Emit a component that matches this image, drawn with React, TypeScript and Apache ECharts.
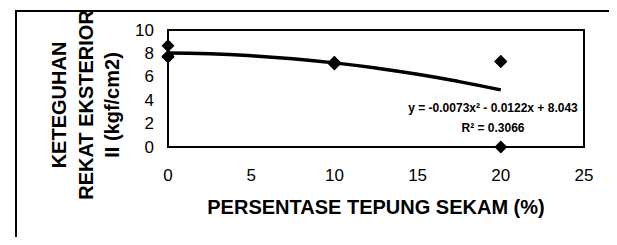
import React, { useEffect, useRef } from "react";
import * as echarts from "echarts";

const pointX = [0, 0, 0, 10, 10, 10, 20, 20, 20];
const pointY = [8.65, 7.75, 7.7, 7.1, 7.2, 7.25, 7.3, 7.3, 0];
const trendX = [0, 2.5, 5, 7.5, 10, 12.5, 15, 17.5, 20];
const trendY = [8.04, 7.97, 7.8, 7.54, 7.19, 6.75, 6.22, 5.59, 4.88];
const xTicks = [0, 5, 10, 15, 20, 25];
const yTicks = [0, 2, 4, 6, 8, 10];
const xTitle = "PERSENTASE TEPUNG SEKAM (%)";
const yTitleLines = ["KETEGUHAN", "REKAT EKSTERIOR", "II (kgf/cm2)"];
const equation = "y = -0.0073x\u00B2 - 0.0122x + 8.043";
const rSquared = "R\u00B2 = 0.3066";

const FONT = "'Liberation Sans', Arial, sans-serif";

export default function App() {
  const ref = useRef<HTMLDivElement>(null);
  useEffect(() => {
    if (!ref.current) return;
    const chart = echarts.init(ref.current, null, { renderer: "svg" });
    const yTitleX = [59, 86, 112];
    chart.setOption({
      animation: false,
      backgroundColor: "#fff",
      grid: {
        left: 168,
        top: 30,
        right: 33,
        bottom: 98,
        show: true,
        borderColor: "#000",
        borderWidth: 2,
        backgroundColor: "transparent",
      },
      xAxis: {
        type: "value",
        min: xTicks[0],
        max: xTicks[xTicks.length - 1],
        interval: 5,
        axisLine: { show: false },
        axisTick: { show: false },
        splitLine: { show: false },
        axisLabel: { color: "#000", fontSize: 17, fontFamily: FONT, margin: 20 },
        name: xTitle,
        nameLocation: "middle",
        nameGap: 50,
        nameTextStyle: { color: "#000", fontSize: 20, fontWeight: "bold", fontFamily: FONT },
      },
      yAxis: {
        type: "value",
        min: yTicks[0],
        max: yTicks[yTicks.length - 1],
        interval: 2,
        axisLine: { show: false },
        axisTick: { show: false },
        splitLine: { show: false },
        axisLabel: { color: "#000", fontSize: 17, fontFamily: FONT, margin: 14 },
      },
      graphic: [
        {
          type: "rect",
          shape: { x: 16, y: 11, width: 598, height: 300 },
          style: { fill: "none", stroke: "#000", lineWidth: 2 },
          silent: true,
        },
        ...yTitleLines.map((t, i) => ({
          type: "text",
          x: yTitleX[i],
          y: 105,
          rotation: Math.PI / 2,
          style: {
            text: t,
            fill: "#000",
            font: `bold 20px ${FONT}`,
            textAlign: "center",
            textVerticalAlign: "middle",
          },
        })),
        {
          type: "text",
          x: 493,
          y: 108,
          style: {
            text: equation,
            fill: "#000",
            font: `bold 12px ${FONT}`,
            textAlign: "center",
            textVerticalAlign: "middle",
          },
        },
        {
          type: "text",
          x: 493,
          y: 128,
          style: {
            text: rSquared,
            fill: "#000",
            font: `bold 12px ${FONT}`,
            textAlign: "center",
            textVerticalAlign: "middle",
          },
        },
      ],
      series: [
        {
          type: "line",
          data: trendX.map((x, i) => [x, trendY[i]]),
          smooth: true,
          showSymbol: false,
          lineStyle: { color: "#000", width: 3.5 },
          z: 2,
        },
        {
          type: "scatter",
          data: pointX.map((x, i) => [x, pointY[i]]),
          symbol: "diamond",
          symbolSize: 13,
          itemStyle: { color: "#000", opacity: 1 },
          clip: false,
          z: 3,
        },
      ],
    });
    return () => chart.dispose();
  }, []);
  return <div ref={ref} style={{ width: 617, height: 245, margin: -8 }} />;
}
